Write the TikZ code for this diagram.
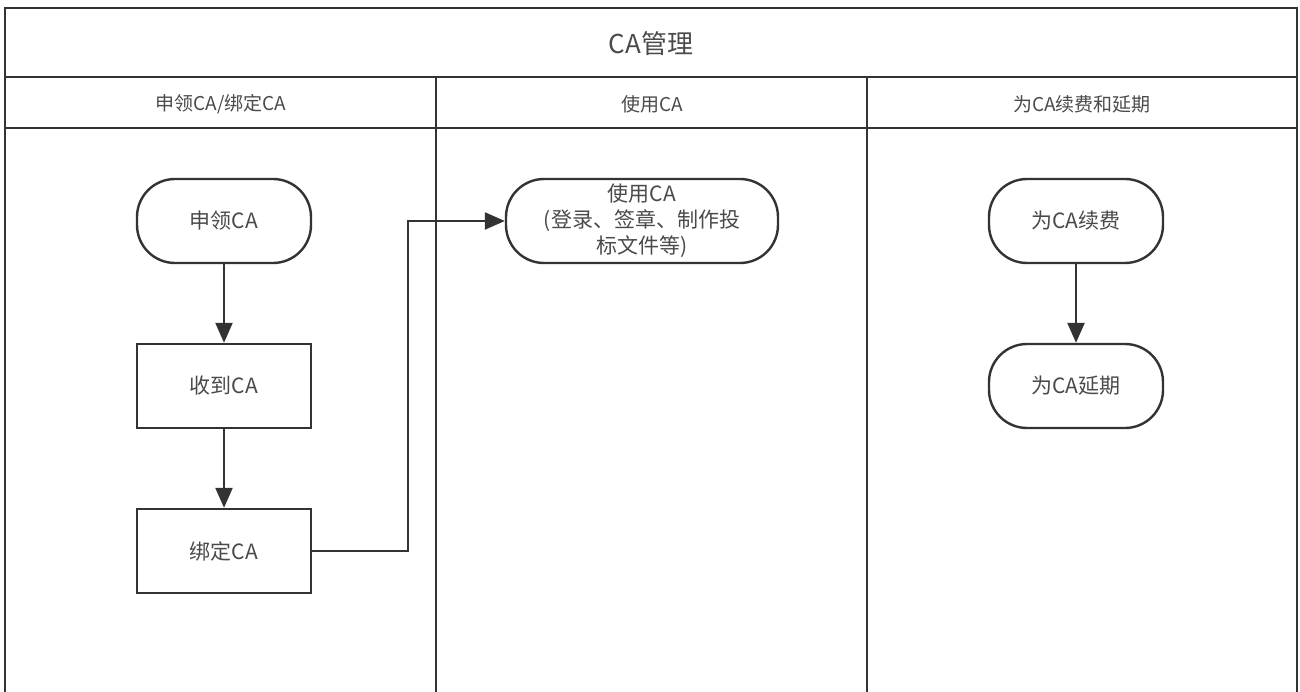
\documentclass[tikz,border=0pt]{standalone}
\usepackage{fontspec}
\setmainfont{Noto Sans CJK SC}
\usetikzlibrary{arrows.meta}
\definecolor{ln}{HTML}{333333}
\definecolor{tx}{HTML}{4A4A4A}
\tikzset{
  lane/.style={draw=ln, line width=2.4pt},
  term/.style={draw=ln, line width=2.4pt, fill=white, rounded corners=38pt, minimum width=174pt, minimum height=84pt, align=center, text=tx, font=\fontsize{21pt}{26pt}\selectfont, inner sep=1pt},
  proc/.style={draw=ln, line width=2.4pt, fill=white, minimum width=174pt, minimum height=84pt, align=center, text=tx, font=\fontsize{21pt}{26pt}\selectfont},
  hdr/.style={text=tx, font=\fontsize{19pt}{22pt}\selectfont},
  flow/.style={draw=ln, line width=2.4pt, -{Triangle[length=20pt,width=17pt]}},
}
\begin{document}
\begin{tikzpicture}[x=1pt,y=-1pt]
\useasboundingbox (0,0) rectangle (1300,692);
\begin{scope}
\clip (0,0) rectangle (1300,692);
% frame
\draw[lane] (5,710) -- (5,8) -- (1297,8) -- (1297,710);
\draw[lane] (5,77) -- (1297,77);
\draw[lane] (5,128) -- (1297,128);
\draw[lane] (436,77) -- (436,710);
\draw[lane] (867,77) -- (867,710);
\end{scope}
\node[hdr, font=\fontsize{26pt}{30pt}\selectfont] (title) at (651,44) {CA管理};
\node[hdr] (h1) at (221,104) {申领CA/绑定CA};
\node[hdr] (h2) at (652,104) {使用CA};
\node[hdr] (h3) at (1082,104) {为CA续费和延期};

\node[term] (apply) at (224,221) {申领CA};
\node[proc] (recv) at (224,386) {收到CA};
\node[proc] (bind) at (224,551) {绑定CA};
\node[term, minimum width=272pt] (use) at (642,221) {使用CA\\(登录、签章、制作投\\标文件等)};
\node[term] (renew) at (1076,221) {为CA续费};
\node[term] (extend) at (1076,386) {为CA延期};

\draw[flow] (apply) -- (recv);
\draw[flow] (recv) -- (bind);
\draw[flow] (bind.east) -- (408,551) -- (408,221) -- (use.west);
\draw[flow] (renew) -- (extend);
\end{tikzpicture}
\end{document}
